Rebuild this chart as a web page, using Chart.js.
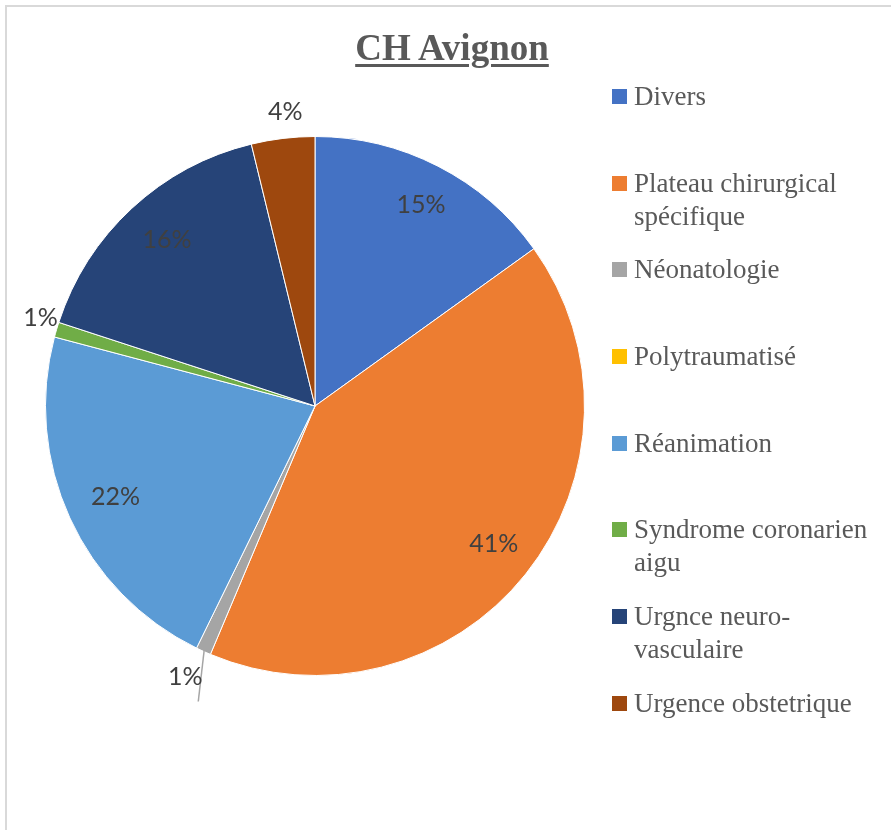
<!DOCTYPE html>
<html>
<head>
<meta charset="utf-8">
<script src="https://cdn.jsdelivr.net/npm/chart.js@4/dist/chart.umd.min.js"></script>
<style>
    html, body { margin: 0; padding: 0; background: #fff; overflow: hidden; }
    #wrap { position: relative; width: 891px; height: 830px; }
    #frame {
        position: absolute; left: 5px; top: 5px; width: 900px; height: 840px;
        border-left: 2px solid #d9d9d9; border-top: 2px solid #d9d9d9;
    }
    #pie { position: absolute; left: 0; top: 0; }
    #title {
        position: absolute; left: 342px; width: 220px; top: 28px; text-align: center;
        font-family: "Liberation Serif", "Times New Roman", serif; font-weight: bold;
        font-size: 37px; line-height: 40px; color: #595959;
        text-decoration: underline; text-decoration-thickness: 3px; text-underline-offset: 4px;
    }
    #legend { position: absolute; left: 612px; top: 80px; width: 285px; }
    .item {
        position: relative; height: 86.7px; padding-left: 22px;
        font-family: "Liberation Serif", "Times New Roman", serif; font-size: 27px;
        line-height: 33px; color: #595959;
    }
    .item .box { position: absolute; left: 0; top: 9px; width: 15px; height: 15px; }
</style>
</head>
<body>
<div id="wrap">
    <div id="frame"></div>
    <canvas id="pie" width="891" height="830"></canvas>
    <div id="title">CH Avignon</div>
    <div id="legend"></div>
</div>
<script>
// Données du graphique
const categories = [
    "Divers",
    "Plateau chirurgical spécifique",
    "Néonatologie",
    "Polytraumatisé",
    "Réanimation",
    "Syndrome coronarien aigu",
    "Urgnce neuro-vasculaire",
    "Urgence obstetrique"
];
const values = [15.1, 41.3, 0.9, 0, 21.9, 0.9, 16.2, 3.8];
const colors = ["#4472C4", "#ED7D31", "#A5A5A5", "#FFC000", "#5B9BD5", "#70AD47", "#264478", "#9E480E"];
// libellés affichés avec un trait de rappel
const leaderLabels = ["Néonatologie"];

document.addEventListener('DOMContentLoaded', () => {
    buildLegend();
    renderChart();
});

// Légende HTML (police serif, retour à la ligne comme dans Excel)
function buildLegend() {
    const legend = document.getElementById('legend');
    categories.forEach((cat, i) => {
        const div = document.createElement('div');
        div.className = 'item';
        div.innerHTML = `<span class="box" style="background:${colors[i]}"></span>${cat}`;
        legend.appendChild(div);
    });
}

// Étiquettes de pourcentage sur les parts
const pctLabels = {
    id: 'pctLabels',
    afterDatasetsDraw(chart) {
        const ctx = chart.ctx;
        const meta = chart.getDatasetMeta(0);
        const total = values.reduce((a, b) => a + b, 0);
        ctx.save();
        ctx.font = '25px Lato, "Open Sans", sans-serif';
        ctx.fillStyle = '#404040';
        ctx.textAlign = 'center';
        ctx.textBaseline = 'middle';
        meta.data.forEach((arc, i) => {
            if (!values[i]) return;
            const p = arc.getProps(['x', 'y', 'startAngle', 'endAngle', 'outerRadius'], true);
            const mid = (p.startAngle + p.endAngle) / 2;
            const pct = values[i] / total * 100;
            const txt = Math.round(pct) + '%';
            let lx, ly;
            if (leaderLabels.includes(categories[i])) {
                const ex = p.x + Math.cos(mid) * (p.outerRadius - 2);
                const ey = p.y + Math.sin(mid) * (p.outerRadius - 2);
                ctx.strokeStyle = '#a5a5a5';
                ctx.lineWidth = 1.5;
                ctx.beginPath();
                ctx.moveTo(ex, ey);
                ctx.lineTo(ex - 6, ey + 52);
                ctx.stroke();
                lx = ex - 19; ly = ey + 27;
            } else if (pct < 5) {
                const r = p.outerRadius + 22;
                lx = p.x + Math.cos(mid) * r + 5;
                ly = p.y + Math.sin(mid) * r - 5;
            } else {
                const r = p.outerRadius * 0.83;
                lx = p.x + Math.cos(mid) * r + 4;
                ly = p.y + Math.sin(mid) * r - 2;
            }
            ctx.fillText(txt, lx, ly);
        });
        ctx.restore();
    }
};

function renderChart() {
    const ctx = document.getElementById('pie').getContext('2d');
    new Chart(ctx, {
        type: 'pie',
        data: {
            labels: categories,
            datasets: [{
                data: values,
                backgroundColor: colors,
                borderColor: '#ffffff',
                borderWidth: 1
            }]
        },
        options: {
            responsive: false,
            animation: false,
            layout: { padding: { left: 45, top: 136, right: 306, bottom: 154 } },
            plugins: {
                legend: { display: false },
                tooltip: { enabled: false }
            }
        },
        plugins: [pctLabels]
    });
}
</script>
</body>
</html>
